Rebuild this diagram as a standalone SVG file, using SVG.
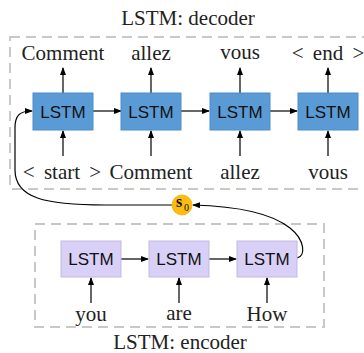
<svg xmlns="http://www.w3.org/2000/svg" width="364" height="353" viewBox="0 0 364 353">
<defs>
<marker id="ah" markerWidth="8" markerHeight="6" refX="7" refY="3" orient="auto" markerUnits="userSpaceOnUse">
<path d="M0,0 L8,3 L0,6 Z" fill="#000"/>
</marker>
<style>
.frame{fill:none;stroke:#c8c8c8;stroke-width:2;stroke-dasharray:10 6}
.dec{fill:#5b9bd5;stroke:#4e8ccc;stroke-width:1}
.enc{fill:#d8d0f6;stroke:#c3b9e6;stroke-width:1}
.bl{font-family:"Liberation Sans","Noto Sans",sans-serif;font-size:17px;fill:#111;text-anchor:middle}
.lb{font-family:"Liberation Serif","DejaVu Serif",serif;font-size:21px;fill:#222;text-anchor:middle}
.ws{word-spacing:4px}
.c{fill:none;stroke:#000;stroke-width:1.2;marker-end:url(#ah)}
</style>
</defs>
<rect width="364" height="353" fill="#fff"/>
<text class="lb" x="188" y="25">LSTM: decoder</text>
<rect class="frame" x="10" y="37" width="362" height="152"/>
<text class="lb" x="180" y="349">LSTM: encoder</text>
<rect class="frame" x="35" y="224" width="289" height="103"/>
<g id="connectors">
<path class="c" d="M63,93 V68"/>
<path class="c" d="M151,93 V68"/>
<path class="c" d="M240,93 V68"/>
<path class="c" d="M328,93 V68"/>
<path class="c" d="M63,156 V131"/>
<path class="c" d="M151,156 V131"/>
<path class="c" d="M240,156 V131"/>
<path class="c" d="M328,156 V131"/>
<path class="c" d="M93,111 H121"/>
<path class="c" d="M181,111 H209"/>
<path class="c" d="M270,111 H297"/>
<path class="c" d="M121,259 H148"/>
<path class="c" d="M209,259 H236"/>
<path class="c" d="M91,303 V278"/>
<path class="c" d="M179,303 V278"/>
<path class="c" d="M267,303 V278"/>
<path class="c" d="M297,258 C306,256 305,240 290,228 C270,212 230,206 193,205"/>
<path class="c" d="M172,205 L105,205 C45,205 15,198 15,170 L15,128 C15,115 20,111 32,111"/>
</g>
<g id="dec1"><rect class="dec" x="33" y="93" width="60" height="37"/><text class="bl" x="63" y="118">LSTM</text></g>
<g id="dec2"><rect class="dec" x="121" y="93" width="60" height="37"/><text class="bl" x="151" y="118">LSTM</text></g>
<g id="dec3"><rect class="dec" x="210" y="93" width="60" height="37"/><text class="bl" x="240" y="118">LSTM</text></g>
<g id="dec4"><rect class="dec" x="298" y="93" width="60" height="37"/><text class="bl" x="328" y="118">LSTM</text></g>
<g id="enc1"><rect class="enc" x="61" y="241" width="60" height="36"/><text class="bl" x="91" y="265">LSTM</text></g>
<g id="enc2"><rect class="enc" x="149" y="241" width="60" height="36"/><text class="bl" x="179" y="265">LSTM</text></g>
<g id="enc3"><rect class="enc" x="237" y="241" width="60" height="36"/><text class="bl" x="267" y="265">LSTM</text></g>
<g id="s0"><circle cx="182" cy="205" r="10" fill="#fdbd0f" stroke="#f2ad00" stroke-width="0.8"/><text x="179" y="207" font-family="Liberation Serif,serif" font-weight="bold" font-size="16" text-anchor="middle" fill="#111">s</text><text x="186.5" y="210.5" font-family="Liberation Serif,serif" font-size="10" text-anchor="middle" fill="#111">0</text></g>
<g id="out-labels">
<text class="lb" x="63" y="60">Comment</text>
<text class="lb" x="151" y="60">allez</text>
<text class="lb" x="240" y="59">vous</text>
<text class="lb ws" x="328" y="60">&lt; end &gt;</text>
</g>
<g id="in-labels">
<text class="lb ws" x="62" y="179">&lt; start &gt;</text>
<text class="lb" x="151" y="179">Comment</text>
<text class="lb" x="240" y="179">allez</text>
<text class="lb" x="328" y="179">vous</text>
</g>
<g id="enc-labels">
<text class="lb" x="91" y="321">you</text>
<text class="lb" x="179" y="320">are</text>
<text class="lb" x="267" y="321">How</text>
</g>
</svg>
